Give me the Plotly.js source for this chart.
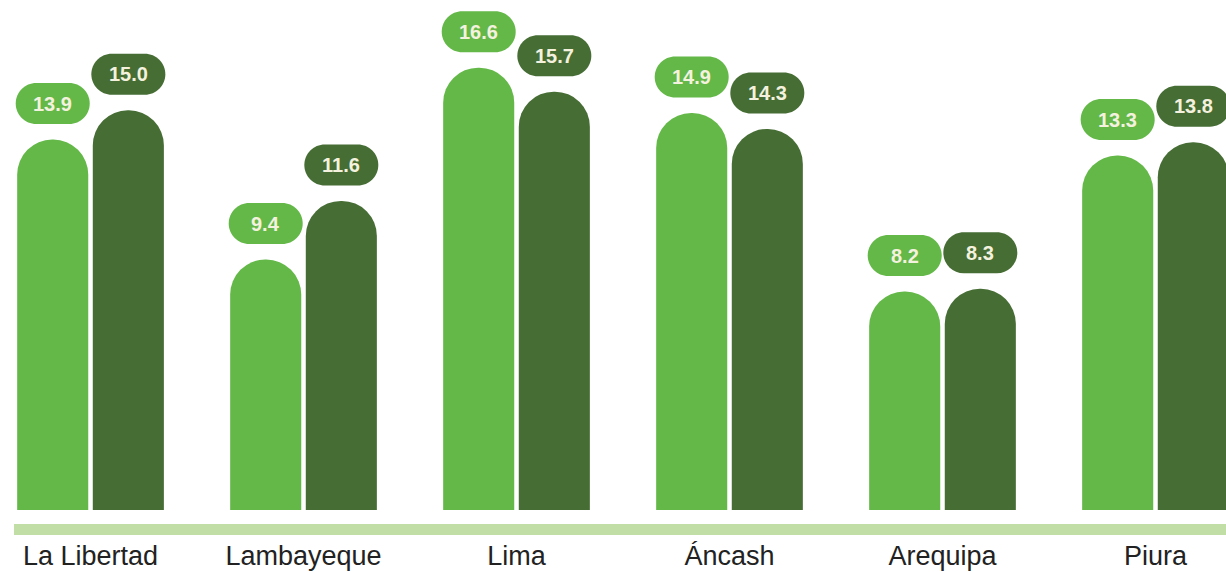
<!DOCTYPE html>
<html>
<head>
<meta charset="utf-8">
<script src="https://cdn.plot.ly/plotly-3.0.1.min.js"></script>
<style>html,body{margin:0;padding:0;background:#fff;}#chart{width:1226px;height:572px;}</style>
</head>
<body>
<div id="chart"></div>
<script>
const categories = ["La Libertad", "Lambayeque", "Lima", "Áncash", "Arequipa", "Piura"];
const seriesA = [13.9, 9.4, 16.6, 14.9, 8.2, 13.3];
const seriesB = [15.0, 11.6, 15.7, 14.3, 8.3, 13.8];

const lightGreen = "#63b848";
const darkGreen = "#466d34";
const textCream = "#f4f2de";
const bargap = 0.29;
const groupgap = 0.06;
const xs = categories.map((c, i) => i);
const slot = (1 - bargap) / 2;

function pillPath(w, h, lift) {
  const r = h / 2, hw = w / 2 - r, k = 0.5523 * r;
  const y0 = lift - r, y1 = lift + r, yc = lift;
  return `M ${-hw},${y0} L ${hw},${y0} C ${hw + k},${y0} ${hw + r},${yc - k} ${hw + r},${yc} ` +
         `C ${hw + r},${yc + k} ${hw + k},${y1} ${hw},${y1} L ${-hw},${y1} ` +
         `C ${-hw - k},${y1} ${-hw - r},${yc + k} ${-hw - r},${yc} ` +
         `C ${-hw - r},${yc - k} ${-hw - k},${y0} ${-hw},${y0} Z`;
}

const shapes = [];
const annotations = [];
const lift = 36;
[[seriesA, -slot / 2, lightGreen], [seriesB, slot / 2, darkGreen]].forEach(([vals, off, col]) => {
  vals.forEach((v, i) => {
    shapes.push({
      type: "path", xref: "x", yref: "y", xsizemode: "pixel", ysizemode: "pixel",
      xanchor: xs[i] + off, yanchor: v, path: pillPath(74, 41, lift),
      fillcolor: col, line: {width: 0}, layer: "above"
    });
    annotations.push({
      x: xs[i] + off, y: v, yshift: lift, text: v.toFixed(1), showarrow: false,
      font: {family: "Liberation Sans, Arial, sans-serif", size: 20, color: textCream, weight: "bold"},
      xanchor: "center", yanchor: "middle"
    });
  });
});

shapes.push({
  type: "rect", xref: "paper", yref: "paper", x0: 14 / 1226, x1: 1, y0: -0.0275, y1: -0.049,
  fillcolor: "#c0dea5", line: {width: 0}, layer: "below"
});

const traces = [
  {type: "bar", x: xs, y: seriesA, marker: {color: lightGreen, cornerradius: "50%"}, hoverinfo: "none"},
  {type: "bar", x: xs, y: seriesB, marker: {color: darkGreen, cornerradius: "50%"}, hoverinfo: "none"}
];

const layout = {
  width: 1226, height: 572,
  margin: {l: 0, r: 0, t: 0, b: 62, pad: 0},
  paper_bgcolor: "#ffffff", plot_bgcolor: "#ffffff",
  barmode: "group", bargap: bargap, bargroupgap: groupgap,
  showlegend: false,
  xaxis: {
    range: [-0.425, 5.331], tickvals: xs, ticktext: categories,
    showgrid: false, zeroline: false, showline: false, ticks: "",
    ticklabelstandoff: 27,
    tickfont: {family: "Liberation Sans, Arial, sans-serif", size: 27, color: "#222222"}
  },
  yaxis: {range: [0, 19.14], visible: false, showgrid: false, zeroline: false},
  shapes: shapes,
  annotations: annotations
};

Plotly.newPlot("chart", traces, layout, {displayModeBar: false, staticPlot: true});
</script>
</body>
</html>
